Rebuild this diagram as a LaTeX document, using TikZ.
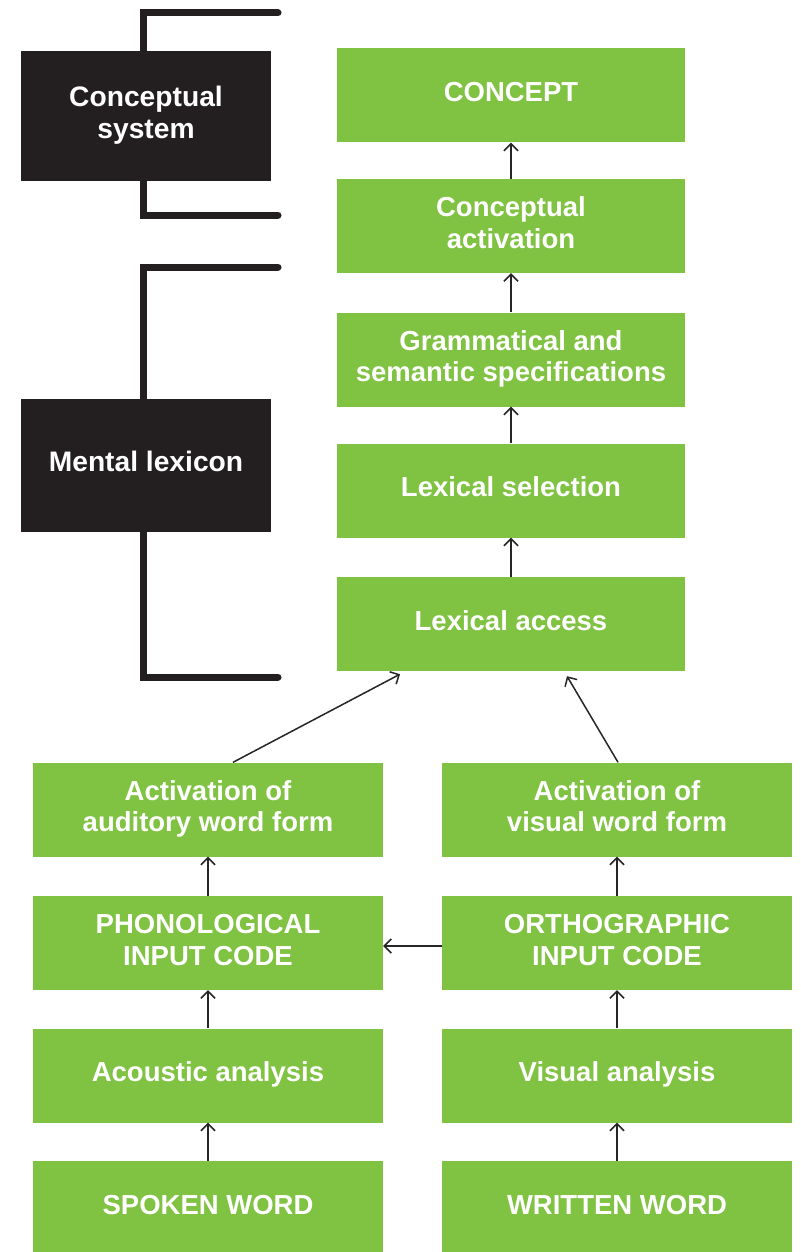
\documentclass[tikz,border=0pt]{standalone}
\usepackage{fontspec}
\setmainfont{Liberation Sans}
\usetikzlibrary{arrows.meta}
\definecolor{lgreen}{HTML}{80C241}
\definecolor{dblack}{HTML}{231F20}
\newcommand\boxtext[1]{\begin{tabular}{@{}c@{}}#1\end{tabular}}
\tikzset{
  gbox/.style={fill=lgreen, draw=none, inner sep=0pt, text=white,
    font=\fontsize{27.5}{31.5}\selectfont\bfseries},
  upbox/.style={gbox, minimum width=348pt, minimum height=94pt},
  lowbox/.style={gbox, minimum width=350pt, minimum height=94pt},
  kbox/.style={fill=dblack, draw=none, inner sep=0pt, text=white,
    minimum width=250pt, font=\fontsize{28.2}{32}\selectfont\bfseries},
  arr/.style={draw=black!85, line width=1.5pt, -{Straight Barb[length=7pt,width=14pt,line width=1.5pt]}},
  brack/.style={draw=dblack, line width=7pt, line join=miter, line cap=round}
}
\begin{document}
\begin{tikzpicture}[x=1pt,y=-1pt]
\clip (0,0) rectangle (800,1252);
\fill[white] (0,0) rectangle (800,1252);
% brackets
\draw[brack] (278,13) -- (143,13) -- (143,215) -- (278,215);
\draw[brack] (278,267) -- (143,267) -- (143,677) -- (278,677);
% black boxes
\node[kbox, minimum height=130pt] (csys) at (146,116) {\boxtext{Conceptual\\system}};
\node[kbox, minimum height=133pt] (mlex) at (146,465.5) {\boxtext{Mental lexicon}};
% upper column
\node[upbox] (concept) at (511,95.5) {\boxtext{CONCEPT}};
\node[upbox] (cact) at (511,226) {\boxtext{Conceptual\\activation}};
\node[upbox] (gram) at (511,359.5) {\boxtext{Grammatical and\\semantic specifications}};
\node[upbox] (lsel) at (511,490.5) {\boxtext{Lexical selection}};
\node[upbox] (lacc) at (511,624) {\boxtext{Lexical access}};
% lower left column
\node[lowbox] (aud) at (208,809.5) {\boxtext{Activation of\\auditory word form}};
\node[lowbox] (phon) at (208,943) {\boxtext{PHONOLOGICAL\\INPUT CODE}};
\node[lowbox] (acou) at (208,1075.5) {\boxtext{Acoustic analysis}};
\node[lowbox] (spok) at (208,1208) {\boxtext{SPOKEN WORD}};
% lower right column
\node[lowbox] (vis) at (617,809.5) {\boxtext{Activation of\\visual word form}};
\node[lowbox] (orth) at (617,943) {\boxtext{ORTHOGRAPHIC\\INPUT CODE}};
\node[lowbox] (vana) at (617,1075.5) {\boxtext{Visual analysis}};
\node[lowbox] (writ) at (617,1208) {\boxtext{WRITTEN WORD}};
% arrows
\draw[arr] (cact.north) -- (concept.south);
\draw[arr] (gram.north) -- (cact.south);
\draw[arr] (lsel.north) -- (gram.south);
\draw[arr] (lacc.north) -- (lsel.south);
\draw[arr] (spok.north) -- (acou.south);
\draw[arr] (acou.north) -- (phon.south);
\draw[arr] (phon.north) -- (aud.south);
\draw[arr] (writ.north) -- (vana.south);
\draw[arr] (vana.north) -- (orth.south);
\draw[arr] (orth.north) -- (vis.south);
\draw[arr] ([yshift=-3pt]orth.west) -- ([yshift=-3pt]phon.east);
\draw[arr] ([xshift=25pt]aud.north) -- ([xshift=-111pt,yshift=-3pt]lacc.south);
\draw[arr] ([xshift=1pt]vis.north) -- ([xshift=56pt,yshift=-5pt]lacc.south);
\end{tikzpicture}
\end{document}
